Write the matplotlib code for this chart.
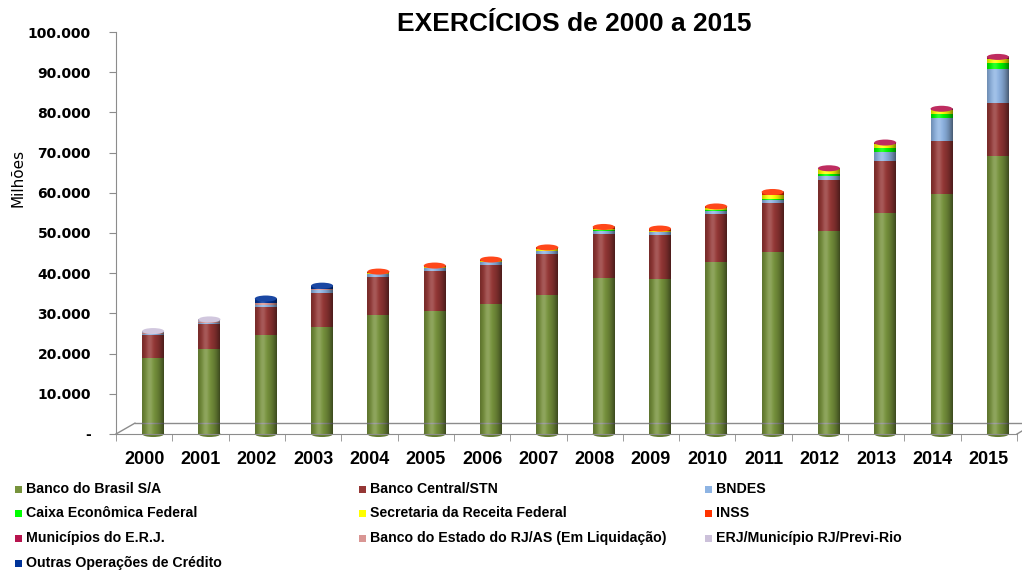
import numpy as np
import matplotlib
matplotlib.use('Agg')
from matplotlib import pyplot as plt
from matplotlib.colors import to_rgb
from matplotlib.patches import Ellipse, Rectangle
from matplotlib.ticker import FuncFormatter


anos = [str(a) for a in range(2000, 2016)]

# valores em R$ (milhões)
banco_brasil = [18800, 21100, 24600, 26600, 29600, 30600, 32300, 34600,
                38800, 38500, 42800, 45300, 50500, 55000, 59700, 69200]
banco_central = [5800, 6300, 7000, 8500, 9400, 10000, 9700, 10200,
                 11000, 11000, 11900, 12200, 12700, 12900, 13200, 13100]
bndes = [300, 300, 500, 700, 700, 600, 700, 700,
         800, 700, 700, 600, 1100, 2200, 5700, 8500]
caixa = [0, 0, 0, 0, 100, 100, 100, 100,
         100, 100, 300, 400, 500, 1000, 1100, 1600]
receita_federal = [0, 0, 0, 0, 200, 200, 200, 300,
                   300, 300, 500, 1000, 1000, 1000, 800, 1000]
inss = [0, 0, 100, 100, 400, 400, 400, 500,
        500, 500, 400, 700, 0, 0, 0, 0]
municipios = [0, 0, 0, 0, 0, 0, 0, 0,
              0, 0, 0, 0, 300, 400, 400, 400]
banerj = [200, 200, 300, 200, 0, 0, 0, 0,
          0, 0, 0, 0, 0, 0, 0, 0]
erj_previ = [500, 600, 0, 0, 0, 0, 0, 0,
             0, 0, 0, 0, 0, 0, 0, 0]
outras = [0, 0, 1200, 800, 0, 0, 0, 0,
          0, 0, 0, 0, 0, 0, 0, 0]

series = [
    ('Banco do Brasil S/A', banco_brasil, '#77933C'),
    ('Banco Central/STN', banco_central, '#953735'),
    ('BNDES', bndes, '#8EB4E3'),
    ('Caixa Econômica Federal', caixa, '#00FF00'),
    ('Secretaria da Receita Federal', receita_federal, '#FFFF00'),
    ('INSS', inss, '#FF3300'),
    ('Municípios do E.R.J.', municipios, '#B7144E'),
    ('Banco do Estado do RJ/AS (Em Liquidação)', banerj, '#D99694'),
    ('ERJ/Município RJ/Previ-Rio', erj_previ, '#CCC1DA'),
    ('Outras Operações de Crédito', outras, '#003399'),
]

W, H = 1022, 570
fig = plt.figure(figsize=(W / 100, H / 100), dpi=100)
ax = fig.add_axes([116 / W, 1 - 434 / H, 901 / W, 402 / H])

x = np.arange(len(anos))
xb = x + 0.16
largura = 0.39
base = np.zeros(len(anos))
topo_cor = [None] * len(anos)
for nome, valores, cor in series:
    v = np.array(valores, dtype=float)
    ax.bar(xb, v, largura, bottom=base, color=cor, edgecolor='none', zorder=2)
    for i in range(len(anos)):
        if v[i] > 0:
            topo_cor[i] = cor
    base = base + v

# sombreamento de cilindro
t = np.linspace(0, 1, 64)
sombra = np.zeros((1, 64, 4))
sombra[0, :, 3] = 0.5 * ((t - 0.4) / 0.6) ** 2
brilho = np.ones((1, 64, 4))
brilho[0, :, 3] = 0.18 * np.exp(-((t - 0.35) / 0.15) ** 2)
for i in range(len(anos)):
    ext = (xb[i] - largura / 2, xb[i] + largura / 2, 0, base[i])
    ax.imshow(sombra, extent=ext, aspect='auto', zorder=3, interpolation='bilinear')
    ax.imshow(brilho, extent=ext, aspect='auto', zorder=3, interpolation='bilinear')
    c = np.array(to_rgb(topo_cor[i]))
    c = c + (1 - c) * 0.1
    ax.add_patch(Ellipse((xb[i], base[i]), largura, 1500, facecolor=c,
                         edgecolor='none', zorder=4))
    g = np.array(to_rgb('#77933C')) * 0.85
    ax.add_patch(Ellipse((xb[i], 0), largura, 1500, facecolor=g,
                         edgecolor='none', zorder=1, clip_on=False))

ax.set_xlim(-0.5, len(anos) - 0.5)
ax.set_ylim(0, 100000)

cinza = '#8C8C8C'
for s in ['top', 'right']:
    ax.spines[s].set_visible(False)
ax.spines['left'].set_color(cinza)
ax.spines['bottom'].set_color(cinza)

# piso em perspectiva
ax.plot([0.0, 0.021], [0.0, 0.027], color=cinza, lw=1, transform=ax.transAxes, clip_on=False)
ax.plot([0.021, 1.02], [0.027, 0.027], color=cinza, lw=1, transform=ax.transAxes, clip_on=False)
ax.plot([1.0, 1.02], [0.0, 0.027], color=cinza, lw=1, transform=ax.transAxes, clip_on=False)

ax.set_yticks(np.arange(0, 100001, 10000))
ax.yaxis.set_major_formatter(FuncFormatter(
    lambda v, p: '-' if v == 0 else f'{int(v):,}'.replace(',', '.')))
ax.tick_params(axis='y', direction='out', length=5, color=cinza, pad=13,
               labelsize=10, labelcolor='black')
for lb in ax.get_yticklabels():
    lb.set_fontweight('bold')

ax.set_xticks(x)
ax.set_xticklabels(anos, fontsize=13, fontweight='bold', family='Liberation Sans')
ax.set_xticks(np.arange(-0.5, len(anos)), minor=True)
ax.tick_params(axis='x', which='major', length=0, pad=12)
ax.tick_params(axis='x', which='minor', length=5, color=cinza)

fig.text(574 / W, 1 - 24 / H, 'EXERCÍCIOS de 2000 a 2015', ha='center', va='center',
         fontsize=19, fontweight='bold', family='Liberation Sans')
fig.text(18 / W, 1 - 178 / H, 'Milhões', rotation=90, ha='center', va='center', fontsize=11)

# legenda em 3 colunas
col_x = [18, 362, 708]
lin_y = [489, 513, 538, 563]
for k, (nome, valores, cor) in enumerate(series):
    cx = col_x[k % 3]
    cy = lin_y[k // 3]
    fig.add_artist(Rectangle(((cx - 3.5) / W, 1 - (cy + 3.5) / H), 7 / W, 7 / H,
                             facecolor=cor, edgecolor='none', transform=fig.transFigure))
    fig.text((cx + 8) / W, 1 - cy / H, nome, ha='left', va='center', fontsize=10.2,
             fontweight='bold', family='Liberation Sans')

fig.savefig('out.png', dpi=100)
